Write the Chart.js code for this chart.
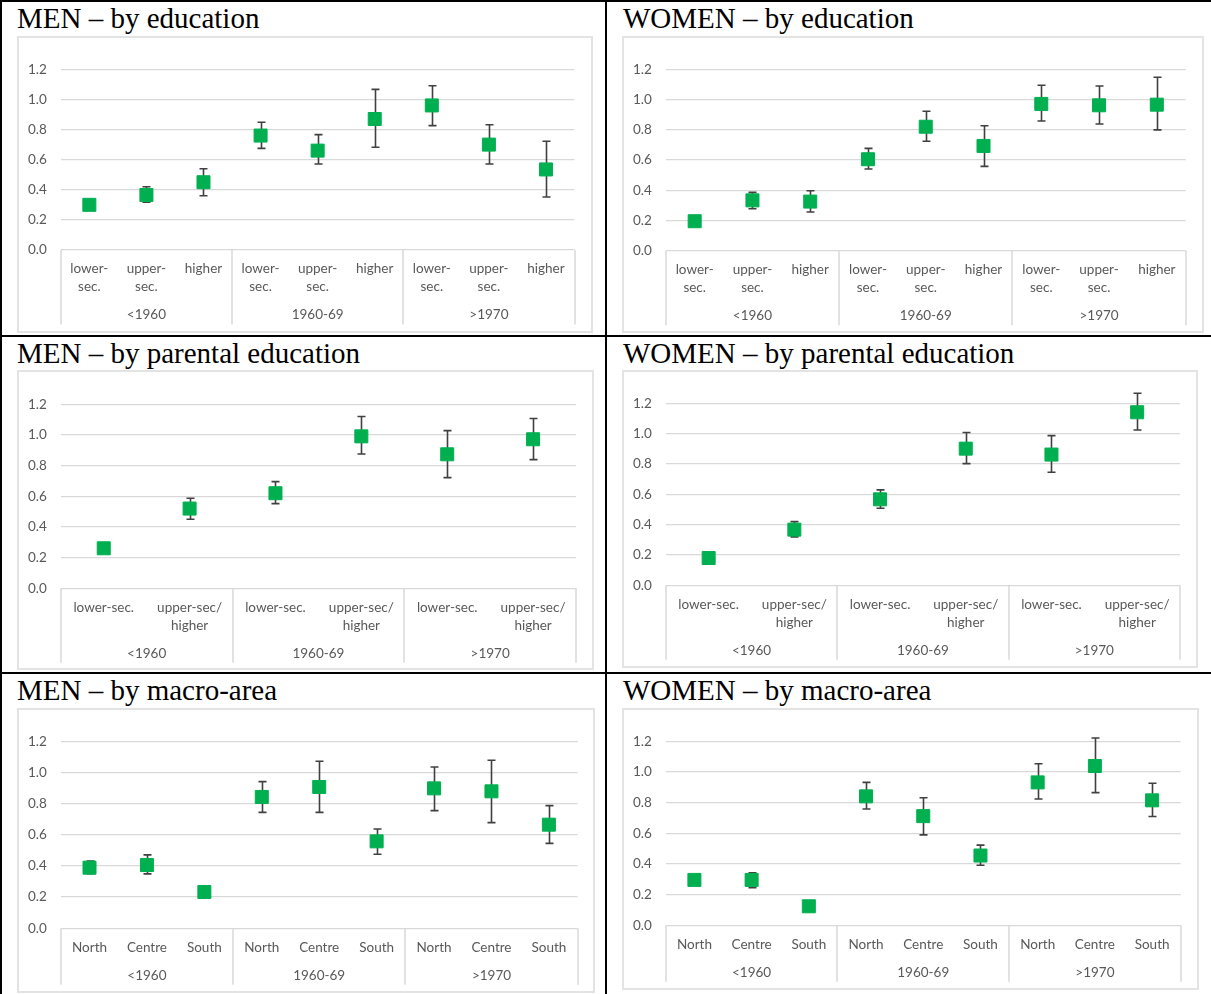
<!DOCTYPE html>
<html>
<head>
<meta charset="utf-8">
<title>Ratios by cohort</title>
<script src="https://cdn.jsdelivr.net/npm/chart.js@4/dist/chart.umd.min.js"></script>
<style>
  html, body { margin: 0; padding: 0; background: #fff; }
  body { width: 1211px; height: 994px; position: relative; overflow: hidden; }
  .rule { position: absolute; background: #000; }
  .title {
    position: absolute; white-space: nowrap; color: #000;
    font-family: "Liberation Serif", "Times New Roman", serif;
    font-size: 29px; line-height: 29px;
  }
  .box { position: absolute; box-sizing: border-box; border: 2px solid #e3e3e3; }
  canvas.plot { position: absolute; }
</style>
</head>
<body>
<!-- table rules -->
<div class="rule" style="left:0;top:0;width:1211px;height:2px"></div>
<div class="rule" style="left:0;top:0;width:2px;height:994px"></div>
<div class="rule" style="left:605px;top:0;width:2px;height:994px"></div>
<div class="rule" style="left:0;top:335px;width:1211px;height:2px"></div>
<div class="rule" style="left:0;top:672px;width:1211px;height:2px"></div>

<script>
// ---- categories ----
const cohorts = ['<1960', '1960-69', '>1970'];
const eduLevels = [['lower-', 'sec.'], ['upper-', 'sec.'], 'higher'];
const parentLevels = ['lower-sec.', ['upper-sec/', 'higher']];
const areas = ['North', 'Centre', 'South'];
const yTicks = [0, 0.2, 0.4, 0.6, 0.8, 1.0, 1.2];

// ---- MEN by education ----
const menEduMean = [0.30, 0.365, 0.45, 0.76, 0.66, 0.87, 0.96, 0.70, 0.535];
const menEduLow  = [null, 0.318, 0.36, 0.675, 0.571, 0.682, 0.826, 0.571, 0.352];
const menEduHigh = [null, 0.42, 0.54, 0.848, 0.766, 1.067, 1.091, 0.832, 0.722];

// ---- WOMEN by education ----
const womenEduMean = [0.195, 0.333, 0.325, 0.605, 0.82, 0.693, 0.971, 0.962, 0.966];
const womenEduLow  = [null, 0.278, 0.256, 0.54, 0.724, 0.558, 0.858, 0.838, 0.799];
const womenEduHigh = [null, 0.386, 0.397, 0.677, 0.922, 0.827, 1.094, 1.09, 1.147];

// ---- MEN by parental education ----
const menParMean = [0.261, 0.52, 0.62, 0.991, 0.874, 0.972];
const menParLow  = [null, 0.45, 0.552, 0.876, 0.722, 0.839];
const menParHigh = [null, 0.587, 0.696, 1.12, 1.028, 1.107];

// ---- WOMEN by parental education ----
const womenParMean = [0.18, 0.367, 0.567, 0.901, 0.862, 1.141];
const womenParLow  = [null, 0.319, 0.508, 0.802, 0.745, 1.024];
const womenParHigh = [null, 0.42, 0.629, 1.007, 0.987, 1.266];

// ---- MEN by macro-area ----
const menAreaMean = [0.389, 0.406, 0.233, 0.843, 0.907, 0.558, 0.898, 0.879, 0.665];
const menAreaLow  = [0.35, 0.349, null, 0.744, 0.744, 0.475, 0.755, 0.678, 0.545];
const menAreaHigh = [0.432, 0.471, null, 0.941, 1.072, 0.637, 1.035, 1.078, 0.787];

// ---- WOMEN by macro-area ----
const womenAreaMean = [0.296, 0.296, 0.124, 0.841, 0.712, 0.455, 0.932, 1.039, 0.815];
const womenAreaLow  = [null, 0.246, null, 0.758, 0.59, 0.392, 0.824, 0.865, 0.71];
const womenAreaHigh = [null, 0.342, null, 0.932, 0.832, 0.523, 1.054, 1.222, 0.926];

// ---- styling ----
const GREEN = '#00b050';
const WHISKER = '#404040';
const GRID = '#d9d9d9';
const TEXT = '#595959';
const SANS = 'Lato, "Open Sans", sans-serif';
const FONT_SIZE = 13.5;
const LINE_H = 18;

// panel frames: box [left, top, right, bottom], plot [left, right, top(1.2), zero]
const panels = [
  { title: 'MEN – by education', titleXY: [17, 4], box: [17, 36, 593, 333], plot: [60.8, 574.5, 69.3, 250],
    levels: eduLevels, mean: menEduMean, low: menEduLow, high: menEduHigh, lines: 2 },
  { title: 'WOMEN – by education', titleXY: [623, 4], box: [622, 36, 1204, 333], plot: [665.8, 1185.7, 69.3, 250.7],
    levels: eduLevels, mean: womenEduMean, low: womenEduLow, high: womenEduHigh, lines: 2 },
  { title: 'MEN – by parental education', titleXY: [17, 339], box: [17, 370, 594, 670], plot: [60.8, 576, 404.3, 588.3],
    levels: parentLevels, mean: menParMean, low: menParLow, high: menParHigh, lines: 2 },
  { title: 'WOMEN – by parental education', titleXY: [623, 339], box: [622, 370, 1198, 668], plot: [665.8, 1180, 403.3, 585.3],
    levels: parentLevels, mean: womenParMean, low: womenParLow, high: womenParHigh, lines: 2 },
  { title: 'MEN – by macro-area', titleXY: [17, 676], box: [17, 708, 595, 993], plot: [60.8, 577.6, 741.3, 928.3],
    levels: areas, mean: menAreaMean, low: menAreaLow, high: menAreaHigh, lines: 1 },
  { title: 'WOMEN – by macro-area', titleXY: [623, 676], box: [622, 708, 1199, 990], plot: [665.8, 1180.7, 741.3, 925.3],
    levels: areas, mean: womenAreaMean, low: womenAreaLow, high: womenAreaHigh, lines: 1 }
];

function drawPanel(p) {
  const [bl, bt, br, bb] = p.box;
  const [pl, pr, ptop, pzero] = p.plot;
  const w = br - bl, h = bb - bt;

  const t = document.createElement('div');
  t.className = 'title';
  t.style.left = p.titleXY[0] + 'px';
  t.style.top = p.titleXY[1] + 'px';
  t.textContent = p.title;
  document.body.appendChild(t);

  const frame = document.createElement('div');
  frame.className = 'box';
  Object.assign(frame.style, { left: bl + 'px', top: bt + 'px', width: w + 'px', height: h + 'px' });
  document.body.appendChild(frame);

  const cv = document.createElement('canvas');
  cv.className = 'plot';
  cv.width = w; cv.height = h;
  Object.assign(cv.style, { left: bl + 'px', top: bt + 'px', width: w + 'px', height: h + 'px' });
  document.body.appendChild(cv);

  const labels = cohorts.flatMap(() => p.levels);
  const perGroup = p.levels.length;
  const lastLine = 19 + (p.lines - 1) * LINE_H;       // centre of last tick-label line below the axis
  const groupY = lastLine + 28;                        // cohort label centre below the axis
  const sepLen = groupY + 9.5;                         // group separators

  // whiskers behind the markers
  const errorBars = {
    id: 'errorBars',
    beforeDatasetsDraw(chart) {
      const { ctx, scales: { x, y } } = chart;
      ctx.save();
      ctx.strokeStyle = WHISKER;
      ctx.lineWidth = 1.6;
      p.low.forEach((lo, i) => {
        const hi = p.high[i];
        if (lo == null || hi == null) return;
        const px = Math.round(x.getPixelForValue(i)) + 0.5;
        const y0 = y.getPixelForValue(lo), y1 = y.getPixelForValue(hi);
        ctx.beginPath();
        ctx.moveTo(px, y0); ctx.lineTo(px, y1);
        ctx.moveTo(px - 4, y0); ctx.lineTo(px + 4, y0);
        ctx.moveTo(px - 4, y1); ctx.lineTo(px + 4, y1);
        ctx.stroke();
      });
      ctx.restore();
    }
  };

  // cohort separators and cohort labels under the category labels
  const cohortAxis = {
    id: 'cohortAxis',
    afterDraw(chart) {
      const { ctx, chartArea, scales: { x } } = chart;
      ctx.save();
      ctx.strokeStyle = GRID;
      ctx.lineWidth = 1.5;
      for (let g = 0; g <= cohorts.length; g++) {
        const px = Math.round(x.getPixelForValue(g * perGroup - 0.5));
        ctx.beginPath();
        ctx.moveTo(px, chartArea.bottom);
        ctx.lineTo(px, chartArea.bottom + sepLen);
        ctx.stroke();
      }
      ctx.fillStyle = TEXT;
      ctx.font = `${FONT_SIZE}px ${SANS}`;
      ctx.textAlign = 'center';
      ctx.textBaseline = 'middle';
      cohorts.forEach((c, g) => {
        const a = x.getPixelForValue(g * perGroup - 0.5);
        const b = x.getPixelForValue((g + 1) * perGroup - 0.5);
        ctx.fillText(c, (a + b) / 2, chartArea.bottom + groupY);
      });
      ctx.restore();
    }
  };

  new Chart(cv, {
    type: 'line',
    data: {
      labels,
      datasets: [{
        data: p.mean,
        showLine: false,
        pointStyle: 'rect',
        pointRadius: 9.2,
        pointHoverRadius: 9.2,
        pointBackgroundColor: GREEN,
        pointBorderColor: GREEN,
        pointBorderWidth: 1,
        clip: false
      }]
    },
    options: {
      responsive: false,
      animation: false,
      events: [],
      layout: { padding: { top: ptop - bt, right: br - pr, left: 0, bottom: 0 } },
      plugins: { legend: { display: false }, tooltip: { enabled: false } },
      scales: {
        x: {
          type: 'category',
          offset: true,
          grid: { display: false, drawTicks: false },
          border: { display: false },
          ticks: {
            autoSkip: false, maxRotation: 0, minRotation: 0,
            padding: 10, color: TEXT,
            font: { family: SANS, size: FONT_SIZE, lineHeight: LINE_H + 'px' }
          },
          afterFit(s) { s.height = bb - pzero; }
        },
        y: {
          min: 0, max: 1.2,
          afterBuildTicks(s) { s.ticks = yTicks.map(v => ({ value: v })); },
          grid: { color: GRID, lineWidth: 1.3, drawTicks: false },
          border: { display: false },
          ticks: {
            padding: 14, color: TEXT,
            font: { family: SANS, size: FONT_SIZE },
            callback: v => Number(v).toFixed(1)
          },
          afterFit(s) { s.width = pl - bl; }
        }
      }
    },
    plugins: [errorBars, cohortAxis]
  });
}

panels.forEach(drawPanel);
</script>
</body>
</html>
